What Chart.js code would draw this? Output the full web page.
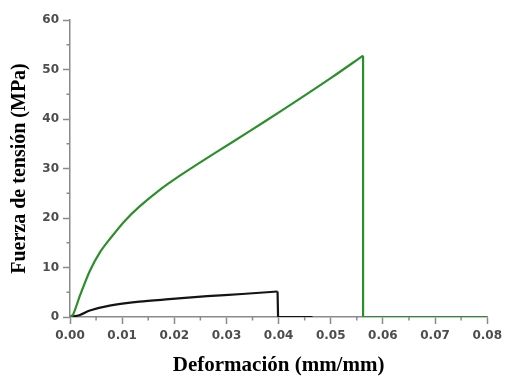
<!DOCTYPE html>
<html>
<head>
<meta charset="utf-8">
<script src="https://cdn.jsdelivr.net/npm/chart.js@4/dist/chart.umd.min.js"></script>
<style>
  html, body { margin: 0; padding: 0; background: #fff; }
  #wrap { width: 507px; height: 376px; }
</style>
</head>
<body>
<div id="wrap"><canvas id="c" width="507" height="376"></canvas></div>
<script>
// ---- data ----
const greenStrain = [0, 0.0006, 0.0019, 0.0038, 0.0057, 0.0076, 0.0105, 0.0133, 0.0171, 0.021, 0.0255, 0.0311, 0.0375, 0.0438, 0.0502, 0.0562];
const greenStress = [0, 0.5, 4.3, 9.3, 13.0, 15.7, 19.4, 22.3, 25.6, 28.5, 31.6, 35.3, 39.6, 43.9, 48.4, 52.8];
const greenBreakStrain = [0.0562, 0.0562, 0.08];
const greenBreakStress = [52.8, 0, 0];

const blackStrain = [0, 0.0019, 0.0038, 0.0076, 0.0133, 0.019, 0.0263, 0.033, 0.0398];
const blackStress = [0, 0.4, 1.3, 2.3, 3.1, 3.6, 4.2, 4.65, 5.15];
const blackBreakStrain = [0.0398, 0.0399, 0.0465];
const blackBreakStress = [5.15, 0, 0];

const xTicks = [0, 0.01, 0.02, 0.03, 0.04, 0.05, 0.06, 0.07, 0.08];
const xMinorTicks = [0.005, 0.015, 0.025, 0.035, 0.045, 0.055, 0.065, 0.075];
const yTicks = [0, 10, 20, 30, 40, 50, 60];
const yMinorTicks = [5, 15, 25, 35, 45, 55];

const xTitle = 'Deformación (mm/mm)';
const yTitle = 'Fuerza de tensión (MPa)';

const pts = (xs, ys) => xs.map((x, i) => ({ x: x, y: ys[i] }));

const GREEN = '#2b902b';
const BLACK = '#141414';
const AXIS = '#8a8a8a';

const minorTickPlugin = {
  id: 'minorTicks',
  afterDraw(chart) {
    const ctx = chart.ctx;
    const xs = chart.scales.x, ys = chart.scales.y;
    ctx.save();
    ctx.strokeStyle = AXIS;
    ctx.lineWidth = 1.5;
    xMinorTicks.forEach(v => {
      const px = xs.getPixelForValue(v);
      ctx.beginPath(); ctx.moveTo(px, xs.top); ctx.lineTo(px, xs.top + 3.5); ctx.stroke();
    });
    yMinorTicks.forEach(v => {
      const py = ys.getPixelForValue(v);
      ctx.beginPath(); ctx.moveTo(ys.right, py); ctx.lineTo(ys.right - 3.5, py); ctx.stroke();
    });
    ctx.restore();
  }
};

const tickFont = { family: 'DejaVu Sans', weight: 'bold', size: 12 };
const titleFontX = { family: 'Liberation Serif', weight: 'bold', size: 21, lineHeight: 1 };
const titleFontY = { family: 'Liberation Serif', weight: 'bold', size: 20, lineHeight: 1 };

new Chart(document.getElementById('c'), {
  type: 'line',
  data: {
    datasets: [
      { data: pts(greenStrain, greenStress), borderColor: GREEN, borderWidth: 2.2, tension: 0.3 },
      { data: pts(greenBreakStrain, greenBreakStress), borderColor: GREEN, borderWidth: 2.2, tension: 0 },
      { data: pts(blackStrain, blackStress), borderColor: BLACK, borderWidth: 2.2, tension: 0.3 },
      { data: pts(blackBreakStrain, blackBreakStress), borderColor: BLACK, borderWidth: 2.2, tension: 0 }
    ]
  },
  options: {
    responsive: false,
    animation: false,
    devicePixelRatio: 1,
    layout: { padding: { top: 20, right: 15, left: 0, bottom: 0 } },
    elements: { point: { radius: 0 }, line: { borderCapStyle: 'butt', borderJoinStyle: 'miter' } },
    plugins: { legend: { display: false }, tooltip: { enabled: false } },
    scales: {
      x: {
        type: 'linear', min: 0, max: 0.08,
        afterBuildTicks: s => { s.ticks = xTicks.map(v => ({ value: v })); },
        afterFit: s => { s.height = 59; },
        ticks: { callback: v => Number(v).toFixed(2), font: tickFont, color: '#4d4d4d', padding: 5, maxRotation: 0, autoSkip: false },
        grid: { drawOnChartArea: false, tickLength: 7, color: AXIS, tickWidth: 1.5 },
        border: { color: AXIS, width: 1.5 },
        title: { display: true, text: xTitle, font: titleFontX, color: '#000', padding: { top: 0, bottom: 0 } }
      },
      y: {
        type: 'linear', min: 0, max: 60,
        afterBuildTicks: s => { s.ticks = yTicks.map(v => ({ value: v })); },
        afterFit: s => { s.width = 70; },
        ticks: { font: tickFont, color: '#4d4d4d', padding: 4, autoSkip: false },
        grid: { drawOnChartArea: false, tickLength: 7, color: AXIS, tickWidth: 1.5 },
        border: { color: AXIS, width: 1.5 },
        title: { display: true, text: yTitle, font: titleFontY, color: '#000', padding: { top: 10, bottom: 0 } }
      }
    }
  },
  plugins: [minorTickPlugin]
});
</script>
</body>
</html>
